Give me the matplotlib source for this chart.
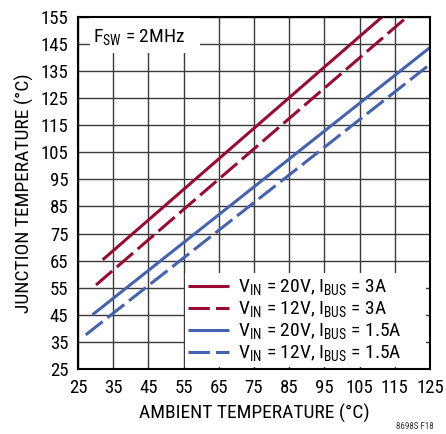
import matplotlib.pyplot as plt
from matplotlib.patches import Rectangle

plt.rcParams['font.family'] = ['Roboto Condensed', 'Liberation Sans', 'DejaVu Sans']
plt.rcParams['mathtext.fontset'] = 'custom'
plt.rcParams['mathtext.rm'] = 'Roboto Condensed'

# data (ambient temp vs junction temp)
amb_20v_3a = [32, 111.4]
tj_20v_3a = [65.3, 155]
amb_12v_3a = [30.1, 118.5]
tj_12v_3a = [56, 155]
amb_20v_15a = [29.1, 125]
tj_20v_15a = [45, 143.7]
amb_12v_15a = [27.2, 125]
tj_12v_15a = [37.6, 137.5]

xticks = list(range(25, 126, 10))
yticks = list(range(25, 156, 10))

red = '#990a35'
blue = '#4462ae'

fig = plt.figure(figsize=(4.46, 4.34), dpi=100)
ax = fig.add_axes([0.175, 0.150, 0.789, 0.811])

lw = 2.2
ax.plot(amb_20v_3a, tj_20v_3a, color=red, lw=lw, solid_capstyle='butt',
        label=r'V$_\mathregular{IN}$ = 20V, I$_\mathregular{BUS}$ = 3A')
ax.plot(amb_12v_3a, tj_12v_3a, color=red, lw=lw, linestyle=(0, (7, 2)), dash_capstyle='butt',
        label=r'V$_\mathregular{IN}$ = 12V, I$_\mathregular{BUS}$ = 3A')
ax.plot(amb_20v_15a, tj_20v_15a, color=blue, lw=lw, solid_capstyle='butt',
        label=r'V$_\mathregular{IN}$ = 20V, I$_\mathregular{BUS}$ = 1.5A')
ax.plot(amb_12v_15a, tj_12v_15a, color=blue, lw=lw, linestyle=(0, (7, 2)), dash_capstyle='butt',
        label=r'V$_\mathregular{IN}$ = 12V, I$_\mathregular{BUS}$ = 1.5A')

ax.set_xlim(25, 125)
ax.set_ylim(25, 155)
ax.set_xticks(xticks)
ax.set_yticks(yticks)
ax.grid(True, color='#3a3a3a', lw=1)
ax.set_axisbelow(True)
ax.tick_params(length=0, labelsize=13.5, pad=7)
for s in ax.spines.values():
    s.set_linewidth(1.5)

ax.set_xlabel('AMBIENT TEMPERATURE (°C)', fontsize=14, labelpad=5)
ax.set_ylabel('JUNCTION TEMPERATURE (°C)', fontsize=14, labelpad=5)

# white boxes hiding the grid behind the notes
ax.add_patch(Rectangle((0.034, 0.898), 0.312, 0.102, transform=ax.transAxes,
                       facecolor='white', edgecolor='none', zorder=1.5))
ax.add_patch(Rectangle((0.304, 0.006), 0.686, 0.267, transform=ax.transAxes,
                       facecolor='white', edgecolor='none', zorder=1.5))

ax.text(29.3, 147.2, r'F$_\mathregular{SW}$ = 2MHz', fontsize=14, va='center', ha='left', zorder=3)

leg = ax.legend(loc='upper left', bbox_to_anchor=(0.3125, 0.258), fontsize=14,
                frameon=False, handlelength=2.1, handletextpad=0.45,
                labelspacing=0.08, borderpad=0, borderaxespad=0)

fig.text(0.973, 0.007, '8698S F18', fontsize=6.5, color='#333333', ha='right', va='bottom')

fig.savefig('out.png', dpi=100)
